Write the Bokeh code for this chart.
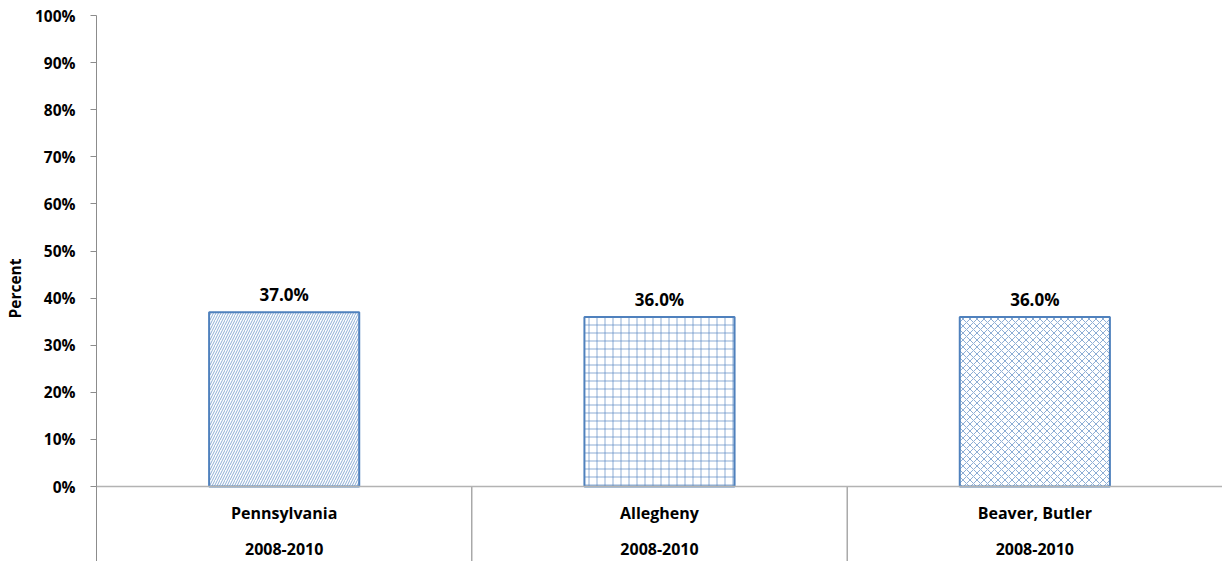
from bokeh.plotting import figure
from bokeh.models import Range1d, FixedTicker, PrintfTickFormatter, Span, ColumnDataSource
from bokeh.core.properties import value
from bokeh.embed import file_html
from bokeh.resources import INLINE

# Data
regions = ["Pennsylvania", "Allegheny", "Beaver, Butler"]
periods = ["2008-2010", "2008-2010", "2008-2010"]
percents = [37.0, 36.0, 36.0]
hatches = ["right_diagonal_line", "cross", "diagonal_cross"]
hatch_scales = [5, 8, 7]
y_ticks = [0, 10, 20, 30, 40, 50, 60, 70, 80, 90, 100]

FONT = "Open Sans"
BLUE = "#4F81BD"

centers = [i + 0.5 for i in range(len(regions))]
labels = [f"{v:.1f}%" for v in percents]

p = figure(
    width=1222, height=561,
    x_range=Range1d(0, len(regions)),
    y_range=Range1d(-15.92, 100),
    output_backend="svg", toolbar_location=None,
    x_axis_location=None,
    min_border_left=95, min_border_right=0, min_border_top=15, min_border_bottom=0,
)
p.outline_line_color = None
p.xgrid.visible = False
p.ygrid.visible = False
p.background_fill_color = "white"
p.border_fill_color = "white"

# Y axis
ax = p.yaxis[0]
ax.ticker = FixedTicker(ticks=y_ticks)
ax.formatter = PrintfTickFormatter(format="%d%%")
ax.axis_line_color = "#8c8c8c"
ax.major_tick_line_color = "#8c8c8c"
ax.major_tick_out = 6
ax.major_tick_in = 0
ax.minor_tick_line_color = None
ax.major_label_standoff = 15
ax.major_label_text_font = FONT
ax.major_label_text_font_style = "bold"
ax.major_label_text_font_size = "15.5px"
ax.major_label_text_color = "black"
ax.axis_label = "Percent"
ax.axis_label_text_font = FONT
ax.axis_label_text_font_style = "bold"
ax.axis_label_text_font_size = "15.5px"
ax.axis_label_text_color = "black"
ax.axis_label_standoff = 6

# Baseline at 0%
p.add_layout(Span(location=0, dimension="width", line_color="#b3b3b3", line_width=1.5))

# Category separators below the baseline
sep_x = [float(i) for i in range(1, len(regions))]
p.segment(x0=sep_x, y0=[0] * len(sep_x), x1=sep_x, y1=[-15.92] * len(sep_x),
          line_color="#7f7f7f", line_width=1)

# Bars
for c, v, h, s in zip(centers, percents, hatches, hatch_scales):
    p.vbar(x=[c], top=[v], bottom=0, width=0.4,
           fill_color="white", line_color=BLUE, line_width=2,
           hatch_pattern=h, hatch_color=BLUE, hatch_alpha=0.65,
           hatch_scale=s, hatch_weight=1)

src = ColumnDataSource(dict(x=centers, top=percents, lab=labels))

# Value labels
p.text(x="x", y="top", text="lab", source=src, text_align="center",
       text_baseline="bottom", y_offset=-6,
       text_font=value(FONT), text_font_style="bold", text_font_size="17px",
       text_color="black")

# Category labels
src2 = ColumnDataSource(dict(x=centers, y1=[-5.7] * 3, y2=[-13.2] * 3,
                             region=regions, period=periods))
p.text(x="x", y="y1", text="region", source=src2, text_align="center",
       text_baseline="middle",
       text_font=value(FONT), text_font_style="bold", text_font_size="16px",
       text_color="black")
p.text(x="x", y="y2", text="period", source=src2, text_align="center",
       text_baseline="middle",
       text_font=value(FONT), text_font_style="bold", text_font_size="16px",
       text_color="black")

open("out.html", "w").write(file_html(p, INLINE))
